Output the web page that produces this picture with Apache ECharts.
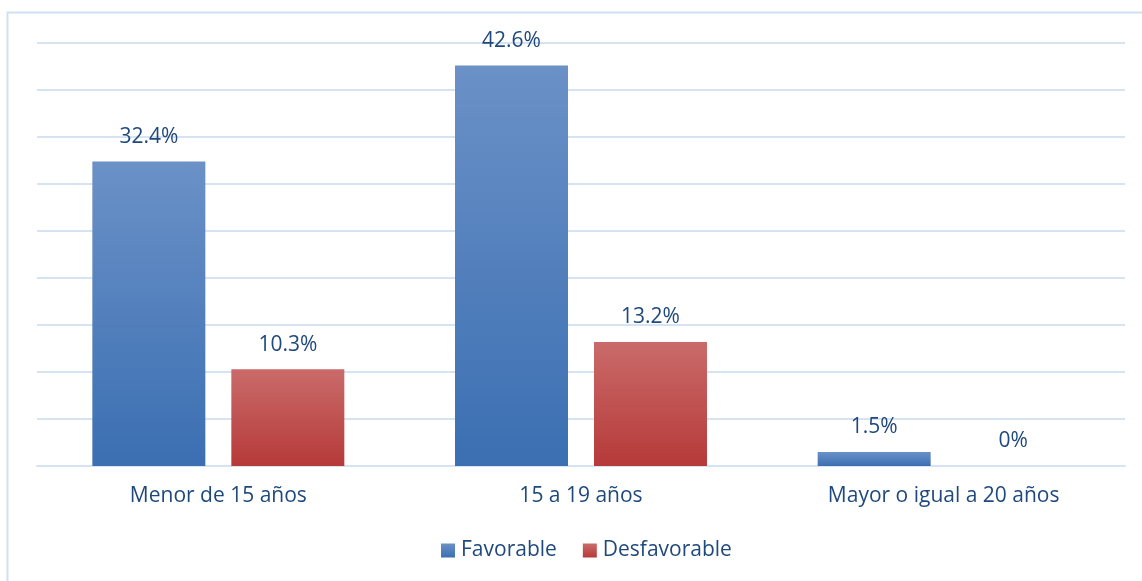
<!DOCTYPE html>
<html>
<head>
<meta charset="utf-8">
<script src="https://cdn.jsdelivr.net/npm/echarts@6/dist/echarts.min.js"></script>
<style>
  html, body { margin: 0; padding: 0; background: #fff; }
  #chart { width: 1142px; height: 581px; }
</style>
</head>
<body>
<div id="chart"></div>
<script>
// datos
var categorias = ['Menor de 15 años', '15 a 19 años', 'Mayor o igual a 20 años'];
var favorable = [32.4, 42.6, 1.5];
var desfavorable = [10.3, 13.2, 0];
var nombres = ['Favorable', 'Desfavorable'];

var textColor = '#1f497d';
var gridColor = '#d6e3f3';
var fuente = 'Open Sans';

var dom = document.getElementById('chart');
var myChart = echarts.init(dom);

function grad(top, bottom) {
    return new echarts.graphic.LinearGradient(0, 0, 0, 1, [
        { offset: 0, color: top },
        { offset: 1, color: bottom }
    ]);
}

var labelCfg = {
    show: true,
    position: 'top',
    distance: 14,
    color: textColor,
    fontFamily: fuente,
    fontSize: 21,
    formatter: function (p) { return p.value === 0 ? '0%' : p.value.toFixed(1) + '%'; }
};

var option = {
    animation: false,
    graphic: [{
        type: 'rect',
        shape: { x: 7.5, y: 12.5, width: 1200, height: 700 },
        style: { fill: 'none', stroke: '#d0dff2', lineWidth: 2 },
        silent: true
    }],
    legend: {
        bottom: 15,
        left: 436,
        itemWidth: 14,
        itemHeight: 14,
        itemGap: 26,
        icon: 'rect',
        textStyle: { color: textColor, fontFamily: fuente, fontSize: 21, padding: [0, 0, 0, 1] },
        data: nombres
    },
    grid: {
        left: 37,
        right: 17,
        top: 43,
        bottom: 115,
        containLabel: false
    },
    xAxis: {
        type: 'category',
        data: categorias,
        axisTick: { show: false },
        axisLine: { show: true, lineStyle: { color: gridColor, width: 2 } },
        axisLabel: {
            color: textColor,
            fontFamily: fuente,
            fontSize: 21,
            margin: 20
        }
    },
    yAxis: {
        type: 'value',
        min: 0,
        max: 45,
        interval: 5,
        axisLabel: { show: false },
        axisLine: { show: false },
        axisTick: { show: false },
        splitLine: { lineStyle: { color: gridColor, width: 2 } }
    },
    series: [{
        name: nombres[0],
        type: 'bar',
        barWidth: 113,
        barGap: '23%',
        itemStyle: { color: grad('#6b91c7', '#3b6fb2') },
        label: labelCfg,
        data: favorable
    }, {
        name: nombres[1],
        type: 'bar',
        barWidth: 113,
        itemStyle: { color: grad('#c96b6a', '#b63a39') },
        label: labelCfg,
        data: desfavorable
    }]
};

if (option && typeof option === 'object') {
    myChart.setOption(option, true);
}
</script>
</body>
</html>
